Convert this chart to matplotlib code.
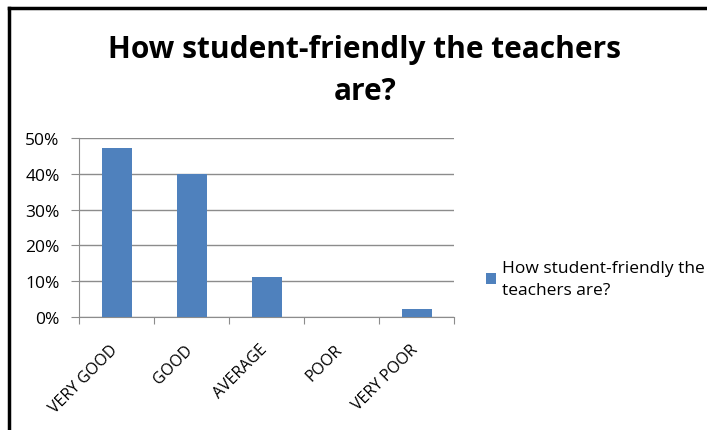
import numpy as np
import matplotlib.pyplot as plt
import matplotlib.transforms as mtransforms
from matplotlib.lines import Line2D
from matplotlib.ticker import FuncFormatter

plt.rcParams['font.family'] = ['Open Sans', 'DejaVu Sans']

# Survey data (share of answers)
categories = ['VERY GOOD', 'GOOD', 'AVERAGE', 'POOR', 'VERY POOR']
shares = [0.473, 0.40, 0.112, 0.0, 0.022]
series_name = 'How student-friendly the\nteachers are?'
title = 'How student-friendly the teachers\nare?'

W, H = 707, 431
fig = plt.figure(figsize=(W / 100, H / 100), dpi=100)

# plot area in pixel terms of the original picture
x0, x1, ytop, ybot = 79, 454, 139, 318
ax = fig.add_axes([x0 / W, (H - ybot) / H, (x1 - x0) / W, (ybot - ytop) / H])

x = np.arange(len(categories))
bars = ax.bar(x, shares, width=0.4, color='#4F81BD', label=series_name, zorder=3)

ax.set_xlim(-0.5, len(categories) - 0.5)
ax.set_ylim(0, 0.5)
ax.set_yticks(np.arange(0, 0.51, 0.1))
ax.yaxis.set_major_formatter(FuncFormatter(lambda v, p: f'{v*100:.0f}%'))
ax.grid(axis='y', color='#8C8C8C', lw=1, zorder=0)

for s in ['top', 'right']:
    ax.spines[s].set_visible(False)
ax.spines['left'].set_color('#8C8C8C')
ax.spines['bottom'].set_color('#8C8C8C')

# category labels between boundary ticks
ax.set_xticks(np.arange(-0.5, len(categories), 1.0))
ax.set_xticklabels([])
ax.tick_params(axis='x', which='major', length=5, color='#8C8C8C', direction='out')
ax.set_xticks(x, minor=True)
ax.set_xticklabels(categories, minor=True, rotation=45, ha='right',
                   rotation_mode='anchor', fontsize=11.5)
ax.tick_params(axis='x', which='minor', length=0, pad=3)
off = mtransforms.ScaledTranslation(-7 / 100, -20 / 100, fig.dpi_scale_trans)
for lab in ax.get_xticklabels(minor=True):
    lab.set_transform(lab.get_transform() + off)

ax.tick_params(axis='y', length=6, color='#8C8C8C', labelsize=12.5, pad=8)

# title
fig.text(365 / W, 1 - 71 / H, title, ha='center', va='center',
         fontsize=21.5, fontweight='bold', linespacing=1.5)

# legend
fig.legend(handles=[bars], labels=[series_name], loc='center left',
           bbox_to_anchor=(486 / W, 1 - 280 / H), frameon=False,
           handlelength=0.6, handleheight=0.6,
           handletextpad=0.3, borderpad=0, borderaxespad=0,
           labelspacing=0.2, prop={'size': 12.5})
leg_text = fig.legends[0].get_texts()[0]
leg_text.set_linespacing(1.45)

# black frame around chart area (top and left visible)
fig.add_artist(Line2D([9 / W, 9 / W], [0, 1 - 9 / H], color='black', lw=2.5,
                      transform=fig.transFigure))
fig.add_artist(Line2D([9 / W, 1], [1 - 9 / H, 1 - 9 / H], color='black', lw=2.5,
                      transform=fig.transFigure))

fig.savefig('out.png', dpi=100)
